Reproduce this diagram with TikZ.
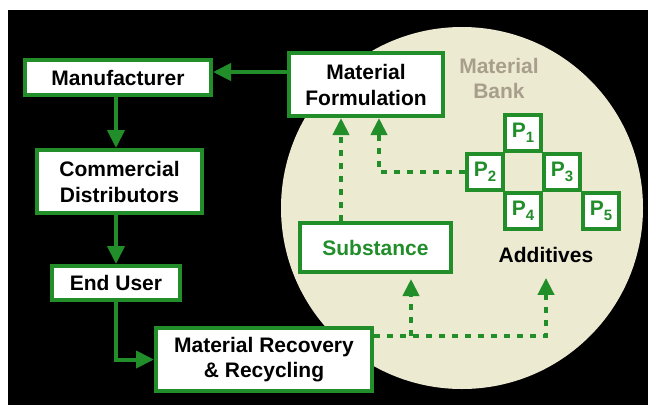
\documentclass[tikz,border=0pt]{standalone}
\usepackage{fontspec}
\setmainfont{Liberation Sans}
\usetikzlibrary{arrows.meta}
\definecolor{gr}{RGB}{34,142,42}
\definecolor{bankfill}{RGB}{237,234,210}
\definecolor{banktxt}{RGB}{168,158,140}
\newcommand\psub[1]{P\raisebox{-5pt}{\fontsize{15}{15}\selectfont #1}}
\begin{document}
\begin{tikzpicture}[x=1pt,y=-1pt,
  box/.style={draw=gr, line width=4pt, fill=white, inner sep=0pt, align=center,
    font=\fontsize{21}{26}\selectfont\bfseries},
  pbox/.style={box, minimum width=36pt, minimum height=36pt, text=gr},
  arr/.style={draw=gr, line width=4pt, -{Triangle[length=18pt,width=17pt]}},
  darr/.style={draw=gr, line width=4pt, dash pattern=on 6pt off 7pt,
    -{Triangle[length=17pt,width=16pt]}},
  lbl/.style={inner sep=0pt, align=center, font=\fontsize{21}{25}\selectfont\bfseries}]
\useasboundingbox (0,0) rectangle (648,405);
\fill[white] (0,0) rectangle (648,405);
\fill[black] (8,10) rectangle (648,405);
\fill[bankfill] (462,208) circle[radius=181];

\node[box, minimum width=186pt, minimum height=35pt] (man) at (118,77.5) {Manufacturer};
\node[box, minimum width=154pt, minimum height=63pt] (mf) at (366,84.5) {Material\\Formulation};
\node[box, minimum width=165pt, minimum height=63pt] (cd) at (119.5,181.5) {Commercial\\Distributors};
\node[box, minimum width=128pt, minimum height=34pt] (eu) at (116,283) {End User};
\node[box, minimum width=216pt, minimum height=63pt, font=\fontsize{21}{25}\selectfont\bfseries] (mr) at (264,359.5) {Material Recovery\\\& Recycling};
\node[box, minimum width=151pt, minimum height=49pt, text=gr] (sub) at (375.5,247.5) {Substance};

\node[pbox] (p1) at (523,133) {\psub{1}};
\node[pbox] (p2) at (485,172) {\psub{2}};
\node[pbox] (p3) at (562,172) {\psub{3}};
\node[pbox] (p4) at (523,211) {\psub{4}};
\node[pbox] (p5) at (601,211) {\psub{5}};

\node[lbl, text=banktxt] (bank) at (499,78) {Material\\Bank};
\node[lbl] (add) at (546,255) {Additives};

% solid flow
\coordinate (ya) at (0,72);
\draw[arr] (mf.west |- ya) -- (man.east |- ya);
\draw[arr] (man.south -| eu.north) -- (cd.north -| eu.north);
\draw[arr] (cd.south -| eu.north) -- (eu.north);
\draw[arr] (eu.south) |- (mr.west);

% dashed flows
\coordinate (c1) at (411,336);
\coordinate (xa) at (341,0);
\coordinate (xb) at (379,0);
\coordinate (sb) at ([yshift=-5pt]sub.south);
\coordinate (ab) at ([yshift=-15pt]add.south);
\draw[darr] (mr.east |- c1) -| (ab);
\draw[darr] (c1) -- (sb -| c1);
\draw[darr] (sub.north -| xa) -- (mf.south -| xa);
\draw[darr] (p2.west) -| (mf.south -| xb);
\end{tikzpicture}
\end{document}
